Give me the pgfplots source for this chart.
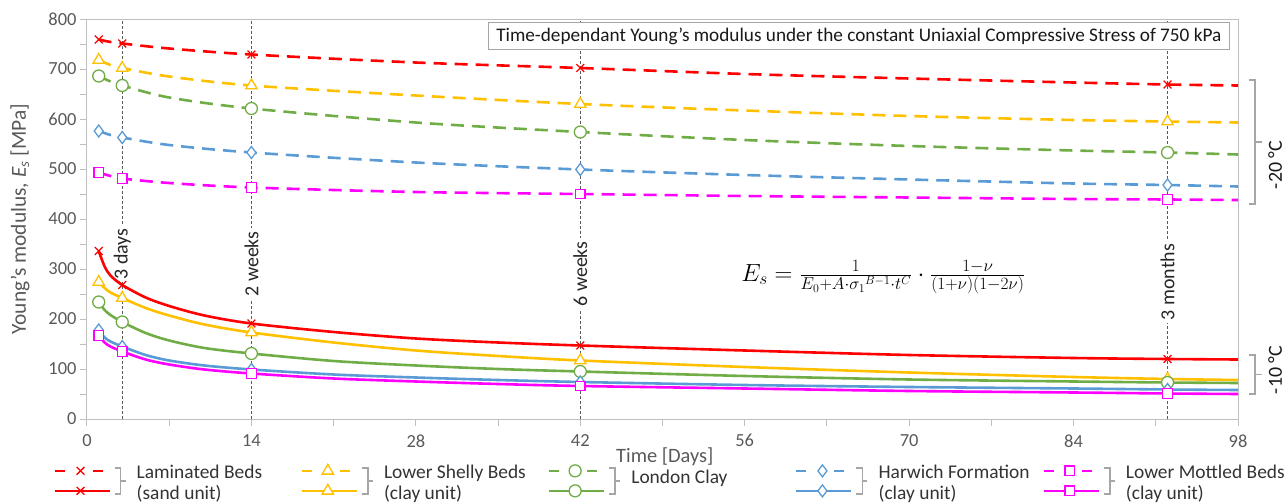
\documentclass[border=0pt]{standalone}
\usepackage{fontspec}
\setmainfont{Carlito}
\usepackage{pgfplots}
\pgfplotsset{compat=1.18}
\definecolor{cRed}{HTML}{FF0000}
\definecolor{cYel}{HTML}{FFC000}
\definecolor{cGrn}{HTML}{70AD47}
\definecolor{cBlu}{HTML}{5B9BD5}
\definecolor{cMag}{HTML}{FF00FF}
\definecolor{axgray}{HTML}{BFBFBF}
\definecolor{txtgray}{HTML}{595959}
\definecolor{brgray}{HTML}{A6A6A6}
\definecolor{vlgray}{HTML}{595959}
\newcommand{\fs}{\fontsize{18.5}{21}\selectfont}
\newcommand{\fl}{\fontsize{20.5}{24}\selectfont}
\newcommand{\lgtxt}[1]{\begin{tabular}[c]{@{}l@{}}#1\end{tabular}}
\newcommand{\legA}{\lgtxt{Laminated Beds\\(sand unit)}}
\newcommand{\legB}{\lgtxt{Lower Shelly Beds\\(clay unit)}}
\newcommand{\legC}{\lgtxt{London Clay}}
\newcommand{\legD}{\lgtxt{Harwich Formation\\(clay unit)}}
\newcommand{\legE}{\lgtxt{Lower Mottled Beds\\(clay unit)}}
\tikzset{vlab/.style={rotate=90, fill=white, inner sep=3bp, font=\fontsize{20}{22}\selectfont, text=black!85}}
\pgfplotsset{
  dline/.style={line width=2.6bp, dash pattern=on 13bp off 8bp, no markers, smooth},
  sline/.style={line width=2.6bp, solid, no markers, smooth},
  mk/.style={only marks, mark options={solid, fill=white, line width=1.3bp}},
  mX/.style={mark=x, mark size=5.5bp},
  mT/.style={mark=triangle*, mark size=6.5bp},
  mO/.style={mark=*, mark size=6bp},
  mD/.style={mark=diamond*, mark size=6bp},
  mS/.style={mark=square*, mark size=4.8bp},
  vline/.style={vlgray, line width=0.9bp, dash pattern=on 3bp off 2bp, no markers, forget plot},
  legimg/.style={legend image code/.code={
     \draw[line width=2.6bp, solid] (0bp,10bp) -- (10bp,10bp);
     \draw[line width=2.6bp, solid] (38bp,10bp) -- (48bp,10bp);
     \draw[line width=2.6bp, solid] (0bp,-10bp) -- (55bp,-10bp);
     \draw[mark options={solid, fill=white, line width=1.3bp}] plot[only marks] coordinates {(26bp,10bp) (26bp,-10bp)};
     \draw[brgray, line width=1.6bp, solid] (60bp,13bp) -- (66bp,13bp) -- (66bp,-13bp) -- (60bp,-13bp);
     \draw[brgray, line width=1.6bp, solid] (66bp,0bp) -- (71bp,0bp);
     \node[draw=none, fill=none, inner sep=0bp, anchor=west, text=black!80, font=\fontsize{19.5}{20}\selectfont] at (82bp,2.5bp) {#1};
     \path[draw=none] (0bp,0bp) -- (245bp,0bp);
  }},
}
\begin{document}
\begin{tikzpicture}
\useasboundingbox (-87bp,-85bp) rectangle (1200bp,419bp);
\begin{axis}[
  scale only axis, width=1151bp, height=400bp,
  xmin=0, xmax=98, ymin=0, ymax=800,
  xtick={0,14,...,98}, ytick={0,100,...,800},
  minor x tick num=1, minor y tick num=1,
  axis line style={axgray, line width=1bp},
  every tick/.style={axgray, line width=1bp},
  every minor tick/.style={axgray, line width=1bp},
  tick pos=left, tick align=outside,
  major tick length=7bp, minor tick length=7bp,
  /pgf/number format/assume math mode=true,
  tick label style={font=\fs, text=txtgray},
  xticklabel style={yshift=-5bp},
  xlabel={Time [Days]},
  xlabel style={font=\fl, text=txtgray, at={(axis description cs:0.502,0)}, anchor=center, yshift=-38bp},
  ylabel={Young's modulus, \textit{E}\textsubscript{\textit{s}} [MPa]},
  ylabel style={font=\fontsize{21.5}{24}\selectfont, text=txtgray, at={(axis description cs:-0.0582,0.5)}, anchor=center},
  clip=false,
  legend columns=5,
  legend cell align=left,
  legend style={at={(axis description cs:-0.0295,-0.154)}, anchor=west, draw=none, fill=none,
    inner sep=0bp, column sep=0bp, row sep=0bp, font=\fontsize{19.5}{20}\selectfont, nodes={inner sep=0bp}},
]
% vertical marker lines
\addplot[vline] coordinates {(3,0) (3,800)};
\addplot[vline] coordinates {(14,0) (14,800)};
\addplot[vline] coordinates {(42,0) (42,800)};
\addplot[vline] coordinates {(92,0) (92,800)};
\node[vlab] at (axis cs:3,330) {3 days};
\node[vlab] at (axis cs:14,310) {2 weeks};
\node[vlab] at (axis cs:42,290) {6 weeks};
\node[vlab] at (axis cs:92,274) {3 months};

% -20 C dashed curves
\addplot[cRed, dline, forget plot] coordinates {(1,759) (2,754) (3,751) (7,741) (14,729) (28,713) (42,702) (56,690) (70,681) (84,673) (92,669) (98,667)};
\addplot[cYel, dline, forget plot] coordinates {(1,718) (2,708) (3,702) (7,685) (14,667) (28,647) (42,630) (56,617) (70,606) (84,598) (92,595) (98,593)};
\addplot[cGrn, dline, forget plot] coordinates {(1,686) (2,675) (3,667) (7,643) (14,621) (28,593) (42,574) (56,558) (70,546) (84,537) (92,533) (98,529)};
\addplot[cBlu, dline, forget plot] coordinates {(1,576) (2,568) (3,563) (7,548) (14,533) (28,513) (42,499) (56,488) (70,479) (84,471) (92,468) (98,465)};
\addplot[cMag, dline, forget plot] coordinates {(1,493) (2,486) (3,481) (7,472) (14,463) (28,454) (42,450) (56,446) (70,443) (84,440) (92,439) (98,438)};

% -10 C solid curves
\addplot[cRed, sline, forget plot] coordinates {(1,336) (1.5,305) (2,287) (3,268) (5,243) (7,226) (10,207) (14,191) (21,174) (28,161) (35,153) (42,147) (56,137) (70,128) (84,122) (92,120) (98,119)};
\addplot[cYel, sline, forget plot] coordinates {(1,274) (1.5,262) (2,253) (3,242) (5,222) (7,207) (10,189) (14,173) (21,153) (28,137) (35,126) (42,117) (56,104) (70,93) (84,84) (92,80) (98,78)};
\addplot[cGrn, sline, forget plot] coordinates {(1,234) (1.5,218) (2,208) (3,194) (5,172) (7,157) (10,142) (14,131) (21,116) (28,107) (35,100) (42,95) (56,86) (70,79) (84,75) (92,73) (98,72)};
\addplot[cBlu, sline, forget plot] coordinates {(1,178) (1.5,163) (2,155) (3,145) (5,128) (7,117) (10,107) (14,99) (21,89) (28,83) (35,78) (42,74) (56,68) (70,64) (84,61) (92,59) (98,58)};
\addplot[cMag, sline, forget plot] coordinates {(1,167) (1.5,153) (2,145) (3,135) (5,119) (7,109) (10,99) (14,91) (21,81) (28,75) (35,70) (42,66) (56,61) (70,56) (84,53) (92,51) (98,50)};

% markers
\addplot[cRed, mk, mX, forget plot] coordinates {(1,759) (3,751) (14,729) (42,702) (92,669) (1,336) (3,268) (14,191) (42,147) (92,120)};
\addplot[cYel, mk, mT, forget plot] coordinates {(1,718) (3,702) (14,667) (42,630) (92,595) (1,274) (3,242) (14,173) (42,117) (92,80)};
\addplot[cGrn, mk, mO, forget plot] coordinates {(1,686) (3,667) (14,621) (42,574) (92,533) (1,234) (3,194) (14,131) (42,95) (92,73)};
\addplot[cBlu, mk, mD, forget plot] coordinates {(1,576) (3,563) (14,533) (42,499) (92,468) (1,178) (3,145) (14,99) (42,74) (92,59)};
\addplot[cMag, mk, mS, forget plot] coordinates {(1,493) (3,481) (14,463) (42,450) (92,439) (1,167) (3,135) (14,91) (42,66) (92,51)};

% legend (text drawn inside the legend image so that it stays aligned)
\addlegendimage{legimg=\legA, cRed, mX}
\addlegendentry{}
\addlegendimage{legimg=\legB, cYel, mT}
\addlegendentry{}
\addlegendimage{legimg=\legC, cGrn, mO}
\addlegendentry{}
\addlegendimage{legimg=\legD, cBlu, mD}
\addlegendentry{}
\addlegendimage{legimg=\legE, cMag, mS}
\addlegendentry{}

% title box
\node[draw=brgray, line width=1bp, fill=white, anchor=north east, inner xsep=8bp, inner ysep=5bp, font=\fontsize{19.3}{22}\selectfont, text=black!90]
  at (rel axis cs:0.993,0.9925) {Time-dependant Young's modulus under the constant Uniaxial Compressive Stress of 750 kPa};
% equation
\node[font=\fontsize{23}{26}\selectfont] at (axis cs:67.8,284)
  {$E_s = \frac{1}{E_0+A\cdot{\sigma_1}^{B-1}\cdot t^C}\cdot\frac{1-\nu}{(1+\nu)(1-2\nu)}$};
\end{axis}
% temperature brackets
\draw[brgray, line width=1.8bp] (1162bp,339bp) -- (1168bp,339bp) -- (1168bp,215bp) -- (1162bp,215bp);
\draw[brgray, line width=1.8bp] (1168bp,277bp) -- (1175bp,277bp);
\node[rotate=90, font=\fontsize{20}{22}\selectfont, text=black!90] at (1188bp,254bp) {-20 °C};
\draw[brgray, line width=1.8bp] (1162bp,64bp) -- (1168bp,64bp) -- (1168bp,25bp) -- (1162bp,25bp);
\draw[brgray, line width=1.8bp] (1168bp,44.5bp) -- (1175bp,44.5bp);
\node[rotate=90, font=\fontsize{20}{22}\selectfont, text=black!90] at (1188bp,49bp) {-10 °C};
\end{tikzpicture}
\end{document}
